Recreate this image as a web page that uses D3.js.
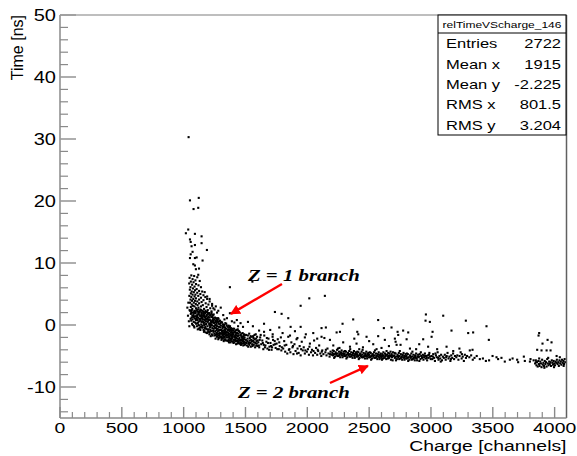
<!DOCTYPE html>
<html><head><meta charset="utf-8">
<script src="https://cdn.jsdelivr.net/npm/d3@7"></script>
<style>body{margin:0;background:#fff}svg{display:block}text{font-family:"Liberation Sans",Arial,sans-serif}</style>
</head><body><svg id="c" width="577" height="456"></svg>
<script>
// ---- data (Charge [channels], Time [ns]) ----
const xTickValues = [0,500,1000,1500,2000,2500,3000,3500,4000];
const yTickValues = [-10,0,10,20,30,40,50];
const statsLabels = ["Entries","Mean x","Mean y","RMS x","RMS y"];
const statsValues = ["2722","1915","-2.225","801.5","3.204"];
const histName = "relTimeVScharge_146";

const highPoints = [[1040,30.3],[1051,20.1],[1122,20.5],[1118,18.9],[1080,18.7],
[1018,14.8],[1037,15.4],[1091,14.7],[1145,14.3],[1051,13.8],[1057,13.4],[1145,13.2],[1091,12.9],[1064,12.7],[1188,12.1],[1072,11.8],[1057,11.4],[1051,10.8],[1091,10.8],[1105,10.9],[1153,10.4],[1078,9.8],[1091,9.6],[1099,9.0],[1124,9.1],[1118,8.1]];

const stemPoints = [[1062,8.0],[1085,7.9],[1048,7.6],[1110,7.7],[1072,7.4],[1095,7.2],[1058,7.0],[1130,7.1],[1080,6.9],[1045,6.7],[1100,6.6],[1068,6.5],[1120,6.4],[1088,6.2],[1055,6.1],[1140,6.1],[1075,5.9],[1105,5.8],[1050,5.7],[1092,5.6],[1125,5.5],[1065,5.4],[1150,5.4],[1082,5.3],[1110,5.2],[1058,5.1],[1135,5.0],[1095,4.9],[1072,4.9],[1160,4.8],[1046,4.7],[1118,4.7],[1088,4.6],[1175,4.5],[1062,4.5],[1140,4.4],[1100,4.3],[1078,4.2],[1190,4.2],[1055,4.1],[1125,4.1],[1160,4.0],[1092,3.9],[1068,3.9],[1210,3.8],[1110,3.8],[1145,3.7],[1052,3.6],[1082,3.6],[1178,3.5],[1125,3.5],[1098,3.4],[1065,3.3],[1200,3.3],[1155,3.2],[1112,3.2],[1075,3.1],[1230,3.1],[1140,3.0],[1088,3.0],[1058,2.9],[1185,2.9],[1120,2.8],[1215,2.7],[1100,2.7],[1165,2.6],[1070,2.6],[1250,2.5],[1135,2.5],[1048,2.4],[1195,2.4],[1090,2.3],[1150,2.3],[1225,2.2],[1110,2.2],[1062,2.1],[1175,2.1],[1130,2.0],[1270,2.0],[1085,1.9],[1205,1.9],
[1280,2.3],[1320,1.6],[1350,1.1],[1410,0.4],[1300,2.8],[1230,3.4],[1260,3.0],[1190,4.6],[1210,4.2],[1170,5.3],[1240,2.7],[1330,0.9],[1390,0.6],[1440,-0.2],
[1035,1.5],[1042,0.6],[1030,2.8],[1046,-0.2],[1038,3.6]];

const z1CorePoints = [
[1058,1.8],[1072,0.9],[1085,2.2],[1064,1.2],[1093,0.4],[1079,1.6],[1052,2.3],[1088,1.1],[1068,0.2],[1097,1.9],[1061,0.7],[1075,2.0],[1083,-0.2],[1091,1.4],[1056,1.0],[1070,1.5],[1099,0.8],[1066,2.4],[1081,0.5],[1094,2.1],[1077,1.3],[1087,-0.4],[1063,1.9],[1073,0.0],[1096,1.0],
[1103,1.5],[1112,0.3],[1121,2.1],[1130,-0.5],[1138,1.0],[1146,1.8],[1107,-0.2],[1116,1.2],[1125,0.6],[1134,2.3],[1142,0.1],[1149,1.1],[1105,2.4],[1114,-0.7],[1123,1.7],[1131,0.9],[1140,-0.3],[1147,2.0],[1109,0.8],[1118,1.9],[1127,-0.1],[1136,1.4],[1144,0.5],[1101,0.2],[1111,1.6],[1120,0.0],[1129,2.2],[1137,0.7],[1145,1.3],[1106,1.0],[1115,2.5],[1124,-0.6],[1133,1.5],[1141,2.4],[1148,-0.4],[1108,1.3],[1117,0.4],[1126,1.0],[1135,-0.8],[1143,1.6],
[1152,0.6],[1160,1.8],[1168,-0.9],[1176,1.1],[1184,0.2],[1192,2.0],[1155,-0.4],[1163,1.4],[1171,0.8],[1179,-1.2],[1187,1.6],[1195,0.5],[1158,2.2],[1166,0.0],[1174,1.9],[1182,-0.6],[1190,1.0],[1198,-1.0],[1153,1.2],[1161,-0.8],[1169,0.4],[1177,2.3],[1185,0.9],[1193,-0.2],[1156,0.9],[1164,-1.1],[1172,1.3],[1180,0.1],[1188,2.1],[1196,1.2],[1151,-0.1],[1159,0.5],[1167,1.6],[1175,-0.3],[1183,1.4],[1191,-0.7],[1199,0.7],[1157,1.5],[1165,2.0],[1173,-0.5],[1181,0.6],[1189,-1.3],[1197,1.8],[1162,0.3],[1178,1.0],
[1202,0.9],[1210,-1.2],[1218,1.5],[1226,0.1],[1234,-1.7],[1242,0.7],[1205,1.9],[1213,-0.4],[1221,0.6],[1229,1.3],[1237,-0.9],[1245,-0.2],[1208,-1.5],[1216,0.3],[1224,1.8],[1232,-0.5],[1240,1.1],[1248,-1.4],[1203,-0.7],[1211,1.2],[1219,-1.8],[1227,0.4],[1235,0.9],[1243,1.7],[1206,0.2],[1214,1.6],[1222,-1.0],[1230,-0.1],[1238,0.5],[1246,0.3],[1201,1.4],[1209,0.0],[1217,-0.8],[1225,2.0],[1233,1.4],[1241,-1.1],[1249,0.9],[1204,-1.1],[1212,0.8],[1220,0.0],[1228,-1.5],[1236,1.6],[1244,-0.6],[1215,-0.3],[1231,0.7],
[1252,0.4],[1260,-1.6],[1268,0.9],[1276,-0.6],[1284,-2.1],[1292,0.1],[1255,-1.0],[1263,1.1],[1271,-0.2],[1279,-1.4],[1287,0.6],[1295,-1.9],[1258,-2.2],[1266,0.2],[1274,-1.1],[1282,1.0],[1290,-0.8],[1298,0.3],[1253,1.2],[1261,-0.5],[1269,-1.9],[1277,0.5],[1285,-0.3],[1293,-1.3],[1256,0.0],[1264,-1.3],[1272,0.8],[1280,-2.3],[1288,-0.9],[1296,-0.4],[1251,-1.7],[1259,0.7],[1267,-0.8],[1275,-1.8],[1283,0.2],[1291,-1.6],[1299,-2.0],[1254,-0.4],[1262,0.5],[1270,-1.5],[1278,1.1],[1286,-1.7],[1294,0.7],[1265,-0.1],[1281,-0.9],
[1302,-0.8],[1310,-2.2],[1318,0.1],[1326,-1.3],[1334,-0.4],[1342,-2.5],[1305,0.5],[1313,-1.6],[1321,-0.9],[1329,-2.0],[1337,0.3],[1345,-1.1],[1308,-1.9],[1316,-0.2],[1324,-2.6],[1332,-0.7],[1340,-1.7],[1348,-0.1],[1303,-1.4],[1311,0.4],[1319,-1.2],[1327,0.0],[1335,-2.3],[1343,-0.6],[1306,-2.4],[1314,-0.5],[1322,-1.8],[1330,-1.0],[1338,-0.9],[1346,-2.0],[1301,-0.1],[1309,-1.1],[1317,-2.1],[1325,-0.3],[1333,-1.5],[1341,-1.3],[1349,-1.6],[1304,-2.0],[1312,-0.9],[1320,-1.5],[1328,-2.4],[1336,-1.2],[1344,0.2],[1315,-1.3],[1331,-1.9],
[1352,-1.2],[1360,-2.6],[1368,-0.4],[1376,-1.7],[1384,-2.3],[1392,-0.9],[1355,-2.0],[1363,-0.1],[1371,-1.4],[1379,-2.8],[1387,-1.1],[1395,-2.0],[1358,-0.7],[1366,-1.9],[1374,-2.5],[1382,-0.5],[1390,-1.6],[1398,-2.7],[1353,-2.5],[1361,-1.3],[1369,-2.1],[1377,-0.8],[1385,-1.9],[1393,-1.3],[1356,-0.3],[1364,-2.4],[1372,-1.0],[1380,-1.5],[1388,-2.6],[1396,-0.6],[1351,-1.7],[1359,-0.9],[1367,-2.8],[1375,-0.2],[1383,-1.2],[1391,-2.2],[1399,-1.5],[1362,-1.6],[1370,-0.7],[1378,-2.2],[1386,-0.8],[1394,-1.8],
[1402,-1.5],[1410,-2.8],[1418,-0.9],[1426,-2.1],[1434,-3.0],[1442,-1.4],[1405,-2.4],[1413,-1.1],[1421,-2.6],[1429,-1.7],[1437,-0.7],[1445,-2.3],[1408,-0.6],[1416,-1.9],[1424,-3.1],[1432,-1.3],[1440,-2.7],[1448,-1.0],[1403,-2.9],[1411,-2.0],[1419,-1.6],[1427,-0.8],[1435,-2.2],[1443,-2.9],[1406,-1.2],[1414,-2.5],[1422,-2.0],[1430,-2.5],[1438,-1.8],[1446,-1.7],[1401,-0.9],[1409,-1.8],[1417,-2.3],[1425,-1.4],[1433,-2.6],[1441,-0.9],[1449,-2.5],[1420,-1.2],
[1452,-2.1],[1460,-3.1],[1468,-1.4],[1476,-2.6],[1484,-1.8],[1492,-3.2],[1455,-1.2],[1463,-2.4],[1471,-3.0],[1479,-1.9],[1487,-2.7],[1495,-1.6],[1458,-2.8],[1466,-1.8],[1474,-2.2],[1482,-3.3],[1490,-2.3],[1498,-2.8],[1453,-3.0],[1461,-1.6],[1469,-2.5],[1477,-1.3],[1485,-2.9],[1493,-2.0],[1456,-2.5],[1464,-3.2],[1472,-2.0],[1480,-2.4],[1488,-1.5],[1496,-3.1],[1467,-2.9],[1483,-2.2]];

const z1TailPoints = [
[1503,-2.4],[1511,-3.3],[1519,-1.7],[1527,-2.8],[1535,-2.1],[1543,-3.5],[1551,-1.9],[1559,-2.6],[1567,-3.2],[1575,-2.3],[1583,-1.5],[1591,-3.0],[1599,-2.5],[1506,-1.6],[1514,-2.6],[1522,-3.5],[1530,-1.4],[1538,-2.9],[1546,-2.4],[1554,-3.1],[1562,-1.8],[1570,-2.8],[1578,-3.6],[1586,-2.2],[1594,-1.9],[1509,-2.9],[1517,-2.2],[1525,-3.0],[1533,-2.5],[1541,-1.8],[1549,-2.7],[1557,-3.4],[1565,-2.1],[1573,-1.6],[1581,-2.9],[1589,-2.6],[1597,-3.4],[1531,-3.2],[1563,-2.5],[1587,-3.3],
[1604,-2.8],[1611,-3.6],[1619,-2.0],[1627,-3.1],[1636,-2.5],[1644,-3.9],[1652,-1.7],[1661,-3.3],[1669,-2.7],[1677,-3.8],[1686,-2.2],[1694,-3.5],[1702,-2.9],[1711,-4.0],[1719,-1.9],[1727,-3.2],[1736,-2.6],[1744,-3.7],[1752,-3.0],[1761,-2.3],[1769,-3.9],[1777,-3.4],[1786,-2.0],[1794,-3.6],[1608,-3.3],[1623,-1.6],[1640,-2.9],[1657,-3.6],[1673,-2.1],[1690,-4.0],[1707,-3.4],[1723,-2.4],[1740,-3.1],[1757,-3.9],[1773,-2.8],[1790,-4.1],[1615,-2.4],[1648,-3.2],[1682,-2.9],[1715,-3.6],
[1805,-3.8],[1813,-2.6],[1821,-4.3],[1830,-3.2],[1838,-4.6],[1846,-1.9],[1855,-3.9],[1863,-4.4],[1871,-2.8],[1880,-3.6],[1888,-4.7],[1896,-3.1],[1905,-4.2],[1913,-2.3],[1921,-3.8],[1930,-4.5],[1938,-3.4],[1946,-4.9],[1955,-2.7],[1963,-4.1],[1971,-3.6],[1980,-4.6],[1988,-1.5],[1996,-4.3],[2005,-3.9],[2013,-4.8],[2021,-3.0],[2030,-4.4],[2038,-4.0],[2046,-4.9],[2055,-2.5],[2063,-4.5],[2071,-3.7],[2080,-4.8],[2088,-4.2],[2096,-3.3],[2105,-4.6],[2113,-5.0],[2121,-4.1],[2130,-4.7],[2138,-2.1],[2146,-4.4],[2155,-4.9],[2163,-3.8],[2171,-4.6],[2180,-5.1],[2188,-4.3],[2196,-4.8],[1817,-3.3],[1851,-4.0],[1884,-3.4],[1917,-4.6],[1950,-3.9],[1984,-4.1],[2017,-3.5],[2050,-4.2],[2084,-4.0],[2117,-4.3],[2150,-4.0],[2184,-4.7]];

const z2BandPoints = [
[2203,-4.5],[2208,-4.9],[2214,-4.2],[2219,-4.7],[2224,-5.1],[2229,-4.4],[2235,-4.8],[2240,-4.0],[2245,-4.6],[2251,-5.0],[2256,-4.3],[2261,-4.7],[2266,-5.2],[2272,-4.5],[2277,-4.1],[2282,-4.9],[2288,-4.6],[2293,-4.3],[2298,-5.0],[2206,-4.1],[2217,-5.3],[2232,-4.6],[2248,-3.8],[2259,-4.9],[2270,-4.4],[2285,-5.2],[2296,-4.7],[2211,-4.7],[2243,-5.0],[2275,-4.8],
[2302,-4.6],[2307,-5.0],[2313,-4.3],[2318,-4.8],[2323,-5.2],[2329,-4.5],[2334,-4.9],[2339,-4.2],[2345,-4.7],[2350,-5.1],[2355,-4.4],[2361,-4.8],[2366,-5.3],[2371,-4.6],[2377,-4.2],[2382,-5.0],[2387,-4.7],[2393,-4.4],[2398,-5.1],[2305,-4.2],[2316,-5.4],[2331,-4.7],[2347,-3.9],[2358,-5.0],[2369,-4.5],[2384,-5.3],[2395,-4.8],[2310,-4.9],[2342,-5.1],[2374,-4.9],[2326,-4.6],[2390,-4.6],
[2402,-4.7],[2407,-5.1],[2413,-4.4],[2418,-4.9],[2423,-5.3],[2429,-4.6],[2434,-5.0],[2439,-4.3],[2445,-4.8],[2450,-5.2],[2455,-4.5],[2461,-4.9],[2466,-5.4],[2471,-4.7],[2477,-4.3],[2482,-5.1],[2487,-4.8],[2493,-4.5],[2498,-5.2],[2405,-4.3],[2416,-5.5],[2431,-4.8],[2447,-4.0],[2458,-5.1],[2469,-4.6],[2484,-5.4],[2495,-4.9],[2410,-5.0],[2442,-5.2],[2474,-5.0],[2426,-4.7],[2490,-4.7],
[2502,-4.8],[2507,-5.2],[2513,-4.5],[2518,-5.0],[2523,-5.4],[2529,-4.7],[2534,-5.1],[2539,-4.4],[2545,-4.9],[2550,-5.3],[2555,-4.6],[2561,-5.0],[2566,-5.5],[2571,-4.8],[2577,-4.4],[2582,-5.2],[2587,-4.9],[2593,-4.6],[2598,-5.3],[2505,-4.4],[2516,-5.6],[2531,-4.9],[2547,-4.1],[2558,-5.2],[2569,-4.7],[2584,-5.5],[2595,-5.0],[2510,-5.1],[2542,-5.3],[2574,-5.1],[2526,-4.8],[2590,-4.8],
[2601,-5.1],[2606,-4.7],[2612,-5.4],[2617,-4.9],[2622,-5.2],[2628,-4.6],[2633,-5.0],[2638,-5.5],[2644,-4.8],[2649,-5.1],[2654,-4.5],[2660,-5.3],[2665,-4.9],[2670,-5.0],[2676,-5.6],[2681,-4.7],[2686,-5.2],[2692,-4.4],[2697,-5.0],[2604,-5.6],[2615,-4.4],[2626,-5.3],[2641,-4.2],[2652,-5.4],[2663,-4.6],[2679,-5.1],[2690,-5.7],[2609,-5.0],[2636,-4.8],[2657,-5.0],[2673,-4.3],[2684,-4.9],
[2703,-4.9],[2708,-5.3],[2714,-4.6],[2719,-5.1],[2724,-5.5],[2730,-4.8],[2735,-5.2],[2740,-4.5],[2746,-5.0],[2751,-5.4],[2756,-4.7],[2762,-5.1],[2767,-5.6],[2772,-4.9],[2778,-4.5],[2783,-5.3],[2788,-5.0],[2794,-4.7],[2799,-5.4],[2706,-4.5],[2717,-5.7],[2733,-5.0],[2748,-4.2],[2759,-5.3],[2770,-4.8],[2786,-5.6],[2797,-5.1],[2711,-5.2],[2743,-5.5],[2775,-5.2],
[2802,-5.0],[2808,-5.4],[2813,-4.7],[2819,-5.2],[2825,-5.6],[2830,-4.9],[2836,-5.3],[2841,-4.6],[2847,-5.1],[2852,-5.5],[2858,-4.8],[2863,-5.2],[2869,-5.7],[2874,-5.0],[2880,-4.6],[2885,-5.4],[2891,-5.1],[2896,-4.8],[2805,-4.6],[2816,-5.8],[2833,-5.1],[2850,-4.3],[2861,-5.4],[2872,-4.9],[2888,-5.7],[2899,-5.2],[2811,-5.3],[2844,-5.6],[2877,-5.3],
[2903,-5.1],[2909,-4.7],[2915,-5.5],[2921,-5.0],[2927,-5.3],[2933,-4.8],[2939,-5.6],[2945,-5.2],[2951,-4.6],[2957,-5.4],[2963,-5.0],[2969,-5.7],[2975,-4.9],[2981,-5.3],[2987,-4.5],[2993,-5.1],[2998,-5.5],[2906,-5.8],[2918,-4.4],[2930,-5.2],[2942,-4.9],[2954,-5.0],[2966,-5.3],[2984,-4.8],
[3004,-5.0],[3011,-5.5],[3018,-4.7],[3025,-5.3],[3032,-5.8],[3040,-4.9],[3047,-5.2],[3054,-4.4],[3061,-5.6],[3068,-5.0],[3075,-5.4],[3082,-4.8],[3089,-5.7],[3096,-5.1],[3015,-5.1],[3036,-4.6],[3058,-5.3],[3079,-5.9],
[3104,-5.3],[3112,-4.8],[3119,-5.6],[3127,-5.0],[3134,-4.5],[3142,-5.4],[3149,-5.1],[3157,-5.8],[3164,-4.9],[3172,-5.3],[3179,-4.6],[3187,-5.5],[3194,-5.0],[3123,-5.2],[3161,-5.5],
[3205,-5.2],[3213,-4.9],[3222,-5.6],[3231,-5.0],[3240,-4.4],[3248,-5.4],[3257,-5.1],[3266,-5.8],[3274,-4.8],[3283,-5.3],[3292,-5.0],[3250,-4.7],
[3310,-5.2],[3325,-4.9],[3338,-5.6],[3352,-5.3],[3395,-5.5],[3444,-5.8],[3498,-5.0],[3530,-5.2],[3543,-5.5],[3597,-5.9],[3638,-5.6],[3660,-5.4],[3697,-5.6],[3705,-6.0],[3751,-5.1],[3759,-5.8],[3800,-5.9],[3805,-5.5],[3370,-5.0],[3420,-5.4],[3470,-5.7],[3570,-5.3],[3830,-5.7]];

const edgePoints = [[3842,-6.2],[3848,-5.7],[3853,-6.5],[3858,-6.0],[3863,-6.7],[3868,-5.8],[3873,-6.3],[3878,-6.6],[3884,-5.9],[3889,-6.2],[3894,-6.8],[3899,-5.6],[3904,-6.4],[3909,-6.1],[3914,-6.6],[3920,-5.8],[3925,-6.3],[3930,-6.0],[3935,-6.7],[3940,-5.5],[3945,-6.2],[3951,-6.5],[3956,-5.9],[3961,-6.3],[3966,-6.0],[3971,-6.6],[3977,-5.7],[3982,-6.1],[3987,-6.4],[3992,-5.8],[3997,-6.2],[4003,-6.5],[4008,-5.9],[4013,-6.1],[4018,-5.6],[4024,-6.3],[4029,-6.0],[4034,-6.6],[4039,-5.7],[4045,-6.2],[4050,-5.9],[4055,-6.4],[4060,-5.6],[4066,-6.1],[4071,-5.8],[4076,-6.3],[4081,-5.5],[4086,-6.0],[3850,-6.0],[3875,-5.4],[3917,-6.9],[3948,-5.3],[3995,-6.8],[4042,-5.2],[4073,-6.6]];

const scatterPoints = [[1556,7.0],[1374,6.1],[1374,1.9],[2016,4.3],[2142,4.7],[1946,3.1],[1738,2.1],[1792,1.8],[1846,1.1],[2285,0.2],[2371,0.9],[2573,0.8],[1773,-0.4],[1865,-0.3],[1946,-0.3],[2115,-0.5],[2150,-0.4],[2264,-1.1],[2404,-1.1],[2412,-1.5],[2619,-0.5],[2681,-0.4],[2730,-1.1],[2775,-0.9],[2573,-1.8],[2735,-1.6],[2479,-1.9],[2708,-2.2],
[2959,1.7],[3099,1.5],[2956,0.7],[2991,0.5],[3282,0.7],[3449,-0.2],[3166,-0.9],[3301,-1.3],[3341,-1.2],[3013,-1.1],[3005,-1.9],[3468,-2.4],[2816,-1.2],[2714,-2.7],[2754,-3.2],[2803,-2.3],[2905,-3.1],[2937,-2.3],[2977,-3.5],[3126,-3.5],[3314,-4.1],[3336,-4.0],
[3875,-1.3],[3870,-1.7],[3902,-3.0],[3943,-2.4],[3975,-2.8],[3859,-4.0],[3894,-4.1],[3935,-4.1],[3967,-4.1],[4016,-5.0],
[2048,-1.3],[2237,-1.2],[2627,-2.4],[2722,-3.2],[2533,-3.1],[2345,-3.5],[2398,-3.0],[2183,-2.4],[2115,-1.9],[2290,-2.8],[2450,-3.6],[2600,-3.7],[2660,-3.4],[2210,-3.3],[2380,-2.2],[2500,-2.6],[2830,-3.8],[2880,-3.9],[3050,-3.9],[3180,-4.2],[3230,-3.8],[2560,-3.9],[2420,-3.9],[2260,-3.7],[1650,0.2],[1700,-0.8],[1610,-0.9],[1560,-0.2],[1520,0.5],[1460,0.3],[1430,0.8],[1480,-0.3],[1900,-1.0],[1980,-2.0],[2080,-2.2],[1800,-1.3],[1920,-2.1],[1650,-1.1],[1720,-1.5],[1860,-1.7]];

// annotations in data units
const annotations = [
  {text:"Z = 1 branch", tx:1520, ty:7.1, from:[1795,6.6], to:[1382,1.8]},
  {text:"Z = 2 branch", tx:1439, ty:-11.8, from:[2183,-9.35], to:[2490,-6.6]}
];

// ---- drawing ----
const svg = d3.select("#c");
const L=60, R=566.5, T=15, B=418;
const x = d3.scaleLinear().domain([0,4096]).range([L,R]);
const y = d3.scaleLinear().domain([-15,50]).range([B,T]);
const SX = 1.25; // horizontal stretch of the original raster text

function label(px, py, s, anchor, size){
  const g = svg.append("g").attr("transform",`translate(${px},${py}) scale(${SX},1)`);
  return g.append("text").attr("text-anchor",anchor)
    .style("font-size",size+"px").attr("fill","#000").text(s);
}

// points
const allPoints = [].concat(highPoints, stemPoints, z1CorePoints, z1TailPoints, z2BandPoints, edgePoints, scatterPoints);
svg.append("defs").append("clipPath").attr("id","clip").append("rect")
  .attr("x",L).attr("y",T).attr("width",R-L).attr("height",B-T);
const ms = 2.1;
svg.append("g").attr("clip-path","url(#clip)").selectAll("rect").data(allPoints).join("rect")
  .attr("x",d=>x(d[0])-ms/2).attr("y",d=>y(d[1])-ms/2).attr("width",ms).attr("height",ms)
  .attr("fill","#000");

// frame
svg.append("line").attr("x1",L).attr("x2",R).attr("y1",T).attr("y2",T).attr("stroke","#a8a8a8").attr("stroke-width",1.5);
svg.append("line").attr("x1",R).attr("x2",R).attr("y1",T).attr("y2",B).attr("stroke","#606060").attr("stroke-width",1.5);
svg.append("line").attr("x1",L).attr("x2",L).attr("y1",T).attr("y2",B).attr("stroke","#8a8a8a").attr("stroke-width",1.5);
svg.append("line").attr("x1",L).attr("x2",R).attr("y1",B).attr("y2",B).attr("stroke","#8a8a8a").attr("stroke-width",1.5);

// y ticks
const yMinor = d3.range(-14,51,2).filter(v=>v%10!==0);
svg.append("g").selectAll("line").data(yMinor).join("line")
  .attr("x1",L).attr("x2",L+8).attr("y1",d=>y(d)).attr("y2",d=>y(d)).attr("stroke","#8a8a8a").attr("stroke-width",1.2);
svg.append("g").selectAll("line").data(yTickValues).join("line")
  .attr("x1",L).attr("x2",L+16).attr("y1",d=>y(d)).attr("y2",d=>y(d)).attr("stroke","#9a9a9a").attr("stroke-width",1.6);
yTickValues.forEach(v=>label(56, y(v)+6, String(v), "end", 16));

// x ticks
const xMinor = d3.range(100,4096,100).filter(v=>v%500!==0);
svg.append("g").selectAll("line").data(xMinor).join("line")
  .attr("x1",d=>x(d)).attr("x2",d=>x(d)).attr("y1",B).attr("y2",B-6).attr("stroke","#8a8a8a").attr("stroke-width",1.2);
svg.append("g").selectAll("line").data(xTickValues).join("line")
  .attr("x1",d=>x(d)).attr("x2",d=>x(d)).attr("y1",B).attr("y2",B-11).attr("stroke","#8a8a8a").attr("stroke-width",1.4);
xTickValues.forEach(v=>label(x(v), 433, String(v), "middle", 15.5));

// axis titles
label(R, 451, "Charge [channels]", "end", 15.5);
svg.append("text").attr("transform",`translate(23,${T}) rotate(-90)`).attr("text-anchor","end")
  .style("font-size","16px").attr("fill","#000").text("Time [ns]");

// stats box
const bx=438, bw=128, by=15, bh=120, th=18;
svg.append("rect").attr("x",bx).attr("y",by).attr("width",bw).attr("height",bh).attr("fill","#fff").attr("stroke","#000").attr("stroke-width",1);
svg.append("line").attr("x1",bx).attr("x2",bx+bw).attr("y1",by+th).attr("y2",by+th).attr("stroke","#000");
label(bx+bw/2, by+13, histName, "middle", 9.6);
const rowH = (bh-th)/statsLabels.length;
statsLabels.forEach((s,i)=>{
  const cy = by+th+rowH*(i+0.5)+5;
  label(bx+8, cy, s, "start", 13.2);
  label(bx+bw-5, cy, statsValues[i], "end", 13.2);
});

// annotations
const defs = svg.select("defs");
defs.append("marker").attr("id","ah").attr("viewBox","0 0 10 10").attr("refX",9).attr("refY",5)
  .attr("markerWidth",4.2).attr("markerHeight",4.2).attr("orient","auto")
  .append("path").attr("d","M0,0 L10,5 L0,10 z").attr("fill","#f00");
annotations.forEach(a=>{
  svg.append("line").attr("x1",x(a.from[0])).attr("y1",y(a.from[1])).attr("x2",x(a.to[0])).attr("y2",y(a.to[1]))
    .attr("stroke","#f00").attr("stroke-width",2.4).attr("marker-end","url(#ah)");
  const g = svg.append("g").attr("transform",`translate(${x(a.tx)},${y(a.ty)}) scale(1.3,1)`);
  g.append("text").style("font-family",'"Liberation Serif","Times New Roman",serif').style("font-weight","bold")
    .style("font-style","italic").style("font-size","16px").attr("fill","#000").text(a.text);
});
</script></body></html>
